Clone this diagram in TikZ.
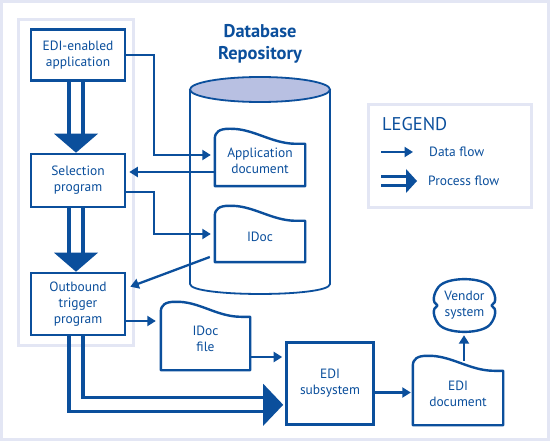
\documentclass[tikz,border=0pt]{standalone}
\usepackage{fontspec}
\setmainfont{PT Sans}
\usetikzlibrary{calc,arrows.meta}
\definecolor{edb}{HTML}{0B4F9C}
\definecolor{lav}{HTML}{E3E6F4}
\definecolor{cyl}{HTML}{B8C0E2}
\newcommand\docshape[1]{%
  \draw[shapeline] (#1.south west) -- ($(#1.north west)+(0,4)$)
    .. controls ($(#1.north west)+(0,-3)$) and ($(#1.north west)+(5,-6)$) .. ($(#1.north west)+(14,-6)$)
    .. controls ($(#1.north west)+(38,-7)$) and ($(#1.north east)+(-34,9)$) .. ($(#1.north east)+(-9,9)$)
    -- ($(#1.north east)+(0,9)$) -- (#1.south east) -- cycle;}
\begin{document}
\begin{tikzpicture}[x=1bp,y=-1bp,
  every node/.style={text=edb, font=\fontsize{13.5}{16}\selectfont, align=center, inner sep=0pt},
  box/.style={draw=edb, line width=2.6bp, minimum width=94bp, minimum height=51bp},
  docnode/.style={minimum width=90bp},
  area/.style={draw=lav, line width=2.7bp},
  data/.style={draw=edb, line width=2.3bp, -{Triangle[length=8.5bp,width=10bp]}},
  procline/.style={draw=edb, line width=3.3bp},
  shapeline/.style={draw=edb, line width=2.4bp, line join=round},
]
\useasboundingbox (0,0) rectangle (550,441);
\fill[white] (0,0) rectangle (550,441);
\draw[lav, line width=3bp] (1.5,1.5) rectangle (548.5,439.5);
% left panel
\draw[area] (18.7,19.5) rectangle (133.8,345.5);
% boxes
\node[box] (edi) at (78,55) {EDI-enabled\\application};
\node[box, minimum height=53bp] (sel) at (78,180.5) {Selection\\program};
\node[box, minimum height=62bp] (out) at (78,304) {Outbound\\trigger\\program};
\node[box, minimum width=87bp, minimum height=82bp] (edisub) at (330,383.5) {EDI\\subsystem};
% database
\node[font=\fontsize{18.5}{22}\selectfont\bfseries] (dbtitle) at (260,44) {Database\\Repository};
\draw[edb, line width=1.8bp] (190,89.5) -- (190,284) .. controls (190,297.3) and (330,297.3) .. (330,284) -- (330,89.5);
\draw[edb, line width=1.8bp, fill=cyl] (260,89.5) ellipse [x radius=70, y radius=12.5];
% documents
\node[docnode, minimum height=51bp] (appdoc) at (260,160.5) {Application\\document};
\docshape{appdoc}
\node[docnode, minimum height=50bp] (idoc) at (260,237) {IDoc};
\docshape{idoc}
\node[docnode, minimum width=89bp, minimum height=62bp] (idocfile) at (205.5,339) {IDoc\\file};
\docshape{idocfile}
\node[docnode, minimum height=63bp] (edidoc) at (458,393.5) {EDI\\document};
\docshape{edidoc}
% vendor cloud
\node[minimum width=62bp, minimum height=53bp] (vendor) at (464.5,305.5) {Vendor\\system};
\draw[shapeline] ($(vendor)+(-26,-18.5)$) .. controls ($(vendor)+(-18,-29)$) and ($(vendor)+(18,-29)$) .. ($(vendor)+(26,-18.5)$)
  .. controls ($(vendor)+(31,-12)$) and ($(vendor)+(33,-3)$) .. ($(vendor)+(27,0)$)
  .. controls ($(vendor)+(33,3)$) and ($(vendor)+(31,12)$) .. ($(vendor)+(26,18.5)$)
  .. controls ($(vendor)+(18,29)$) and ($(vendor)+(-18,29)$) .. ($(vendor)+(-26,18.5)$)
  .. controls ($(vendor)+(-31,12)$) and ($(vendor)+(-33,3)$) .. ($(vendor)+(-27,0)$)
  .. controls ($(vendor)+(-33,-3)$) and ($(vendor)+(-31,-12)$) .. cycle;
% data flows
\draw[data] (edi.east) -- ++(28,0) |- ($(appdoc.west)+(-4,-5.5)$);
\coordinate (c2) at ($(appdoc.west)+(0,11.5)$);
\draw[data] (c2) -- ($(c2 -| sel.east)+(3,0)$);
\draw[data] ($(sel.east)+(0,11.5)$) -- ++(28,0) |- ($(idoc.west)+(-4,-3)$);
\draw[data] ($(idoc.west)+(-5,20)$) -- ($(out.north east)+(4,15)$);
\coordinate (c5) at ($(out.east)+(0,17)$);
\draw[data] (c5) -- ($(c5 -| idocfile.west)+(-5,0)$);
\coordinate (c6) at ($(idocfile.east)+(0,18)$);
\draw[data] (c6) -- ($(c6 -| edisub.west)+(-3,0)$);
\coordinate (c7) at ($(edisub.east)+(0,9)$);
\draw[data] (c7) -- ($(c7 -| edidoc.west)+(-2,0)$);
\coordinate (c8) at ($(edidoc.north)+(6,-1)$);
\draw[data] (c8) -- ($(c8 |- vendor.south)+(0,3)$);
% process flows
\fill[edb] ($(sel.north)+(-2,0)$) -- ++(-22,-19) -- ++(44,0) -- cycle;
\draw[procline] ($(edi.south)+(-9,0)$) -- ($(sel.north)+(-9,-18)$);
\draw[procline] ($(edi.south)+(5,0)$) -- ($(sel.north)+(5,-18)$);
\fill[edb] ($(out.north)+(-2,0)$) -- ++(-22,-19) -- ++(44,0) -- cycle;
\draw[procline] ($(sel.south)+(-9,0)$) -- ($(out.north)+(-9,-18)$);
\draw[procline] ($(sel.south)+(5,0)$) -- ($(out.north)+(5,-18)$);
\coordinate (ptip) at ($(edisub.south west)+(-2,-21)$);
\fill[edb] (ptip) -- ++(-20,-21) -- ++(0,42) -- cycle;
\draw[procline] ($(out.south)+(-9,0)$) |- ($(ptip)+(-19,7)$);
\draw[procline] ($(out.south)+(5,0)$) |- ($(ptip)+(-19,-7)$);
% legend
\node[area, minimum width=163bp, minimum height=103bp] (legend) at (450,156) {};
\node[anchor=west, font=\fontsize{18.5}{20}\selectfont] (legtitle) at (382,124) {LEGEND};
\node[anchor=west] (datalabel) at (429,152) {Data flow};
\coordinate (ds) at (381,152);
\draw[data] (ds) -- ($(ds -| datalabel.west)+(-16,0)$);
\node[anchor=west] (proclabel) at (428,181) {Process flow};
\coordinate (ps) at (381,181);
\coordinate (pt) at ($(ps -| proclabel.west)+(-11,0)$);
\fill[edb] (pt) -- ++(-11,-12) -- ++(0,24) -- cycle;
\draw[procline, line width=2.6bp] ($(ps)+(0,-4.5)$) -- ($(pt)+(-10,-4.5)$);
\draw[procline, line width=2.6bp] ($(ps)+(0,4.5)$) -- ($(pt)+(-10,4.5)$);
\end{tikzpicture}
\end{document}
